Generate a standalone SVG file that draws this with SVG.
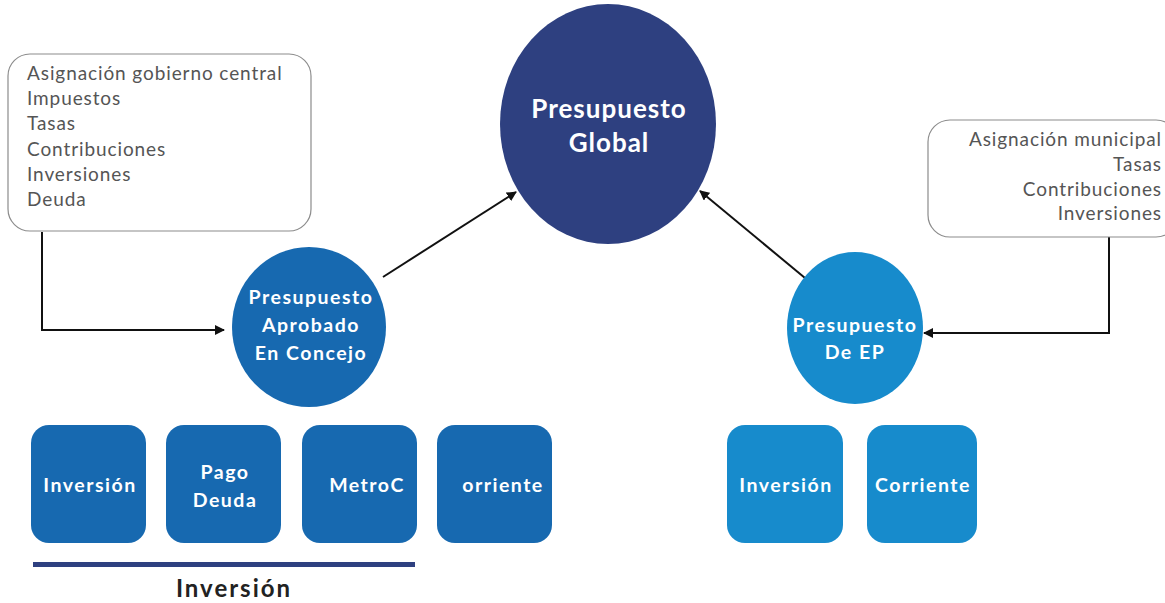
<svg xmlns="http://www.w3.org/2000/svg" width="1165" height="603" viewBox="0 0 1165 603">
<style>
.src{fill:#fff;stroke:#8c8c8c;stroke-width:1.2}
.srct{font-family:Lato,"Liberation Sans",sans-serif;font-size:19px;fill:#555;letter-spacing:0.9px}
.w{font-family:Lato,"Liberation Sans",sans-serif;font-weight:bold;fill:#fff;text-anchor:middle}
.s{font-size:19.5px;letter-spacing:1.5px}
.b1{fill:#1769b0}
.b2{fill:#178bcc}
.conn{fill:none;stroke:#111;stroke-width:2}
</style>
<defs>
<marker id="ah" viewBox="0 0 10 10" refX="9" refY="5" markerWidth="5" markerHeight="5" orient="auto">
<path d="M0,0 L10,5 L0,10 z" fill="#111"/>
</marker>
</defs>
<rect width="1165" height="603" fill="#fff"/>
<g id="connectors">
<polyline class="conn" points="42,232 42,330 224,330" marker-end="url(#ah)"/>
<line class="conn" x1="383" y1="277" x2="516" y2="192" marker-end="url(#ah)"/>
<line class="conn" x1="805" y1="278" x2="700" y2="191" marker-end="url(#ah)"/>
<polyline class="conn" points="1109,237 1109,333 924,333" marker-end="url(#ah)"/>
</g>
<g id="src-left">
<rect class="src" x="8" y="54" width="303" height="177" rx="22"/>
<text class="srct" x="27" y="80">Asignación gobierno central</text>
<text class="srct" x="27" y="105">Impuestos</text>
<text class="srct" x="27" y="130">Tasas</text>
<text class="srct" x="27" y="156">Contribuciones</text>
<text class="srct" x="27" y="181">Inversiones</text>
<text class="srct" x="27" y="206">Deuda</text>
</g>
<g id="src-right">
<rect class="src" x="928" y="120" width="250" height="117" rx="22"/>
<g class="srct" text-anchor="end">
<text x="1162" y="146">Asignación municipal</text>
<text x="1162" y="171">Tasas</text>
<text x="1162" y="196">Contribuciones</text>
<text x="1162" y="220">Inversiones</text>
</g>
</g>
<g id="global">
<ellipse cx="608" cy="124" rx="108" ry="120" fill="#2e4080"/>
<text class="w" x="609" y="118" font-size="26" letter-spacing="1">Presupuesto</text>
<text class="w" x="609" y="152" font-size="26" letter-spacing="1">Global</text>
</g>
<g id="aprobado">
<ellipse cx="309" cy="327" rx="77" ry="80" class="b1"/>
<text class="w s" x="311" y="304">Presupuesto</text>
<text class="w s" x="311" y="332">Aprobado</text>
<text class="w s" x="311" y="360">En Concejo</text>
</g>
<g id="ep">
<ellipse cx="855" cy="328" rx="68" ry="76" class="b2"/>
<text class="w s" x="855" y="332">Presupuesto</text>
<text class="w s" x="855" y="359">De EP</text>
</g>
<g id="inv1">
<rect class="b1" x="31" y="425" width="115" height="118" rx="18"/>
<text class="w s" x="90" y="492">Inversión</text>
</g>
<g id="pago">
<rect class="b1" x="166" y="425" width="115" height="118" rx="18"/>
<text class="w s" x="225" y="479">Pago</text>
<text class="w s" x="225" y="507">Deuda</text>
</g>
<g id="metro">
<rect class="b1" x="302" y="425" width="115" height="118" rx="18"/>
<text class="w s" x="367" y="492">MetroC</text>
</g>
<g id="orriente">
<rect class="b1" x="437" y="425" width="115" height="118" rx="18"/>
<text class="w s" x="503" y="492">orriente</text>
</g>
<g id="inv2">
<rect class="b2" x="727" y="425" width="116" height="118" rx="18"/>
<text class="w s" x="786" y="492">Inversión</text>
</g>
<g id="corriente">
<rect class="b2" x="867" y="425" width="110" height="118" rx="18"/>
<text class="w s" x="923" y="492">Corriente</text>
</g>
<g id="inv-label">
<rect x="33" y="562" width="382" height="5" fill="#2e4080"/>
<text x="234" y="597" font-family="Lato,'Liberation Sans',sans-serif" font-weight="bold" font-size="24" letter-spacing="2" fill="#222" text-anchor="middle">Inversión</text>
</g>
</svg>
